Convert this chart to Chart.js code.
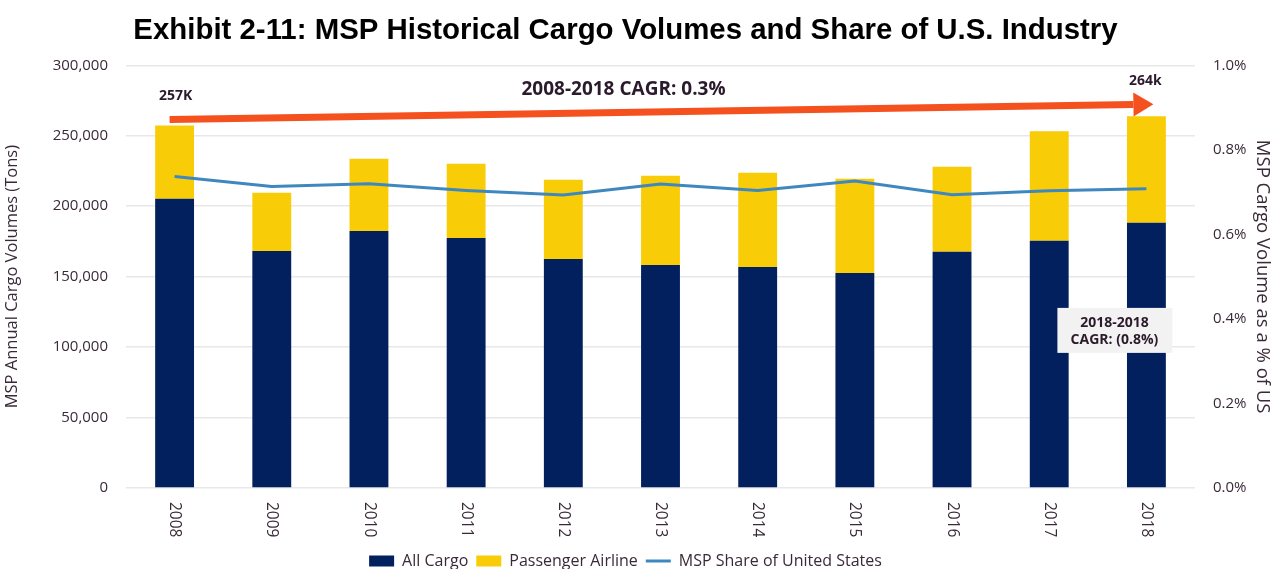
<!DOCTYPE html>
<html>
<head>
<meta charset="utf-8">
<script src="https://cdn.jsdelivr.net/npm/chart.js@4.4.0/dist/chart.umd.min.js"></script>
<style>
  html, body { margin: 0; padding: 0; background: #fff; }
  #wrap { width: 1273px; height: 569px; }
</style>
</head>
<body>
<div id="wrap"><canvas id="chart"></canvas></div>
<script>
const years = ['2008', '2009', '2010', '2011', '2012', '2013', '2014', '2015', '2016', '2017', '2018'];
const allCargo = [205200, 168200, 182400, 177400, 162500, 158200, 156800, 152500, 167700, 175500, 188300];
const passengerAirline = [52000, 41300, 51300, 52800, 56300, 63400, 67000, 67000, 60300, 77700, 75600];
const usShare = [0.737, 0.713, 0.720, 0.704, 0.693, 0.719, 0.704, 0.726, 0.694, 0.703, 0.708]; // percent

const textColor = '#3a2a38';
const sans = "'Open Sans', 'Noto Sans', sans-serif";

// arrow + call-outs, placed through the scales
const notes = {
  id: 'notes',
  afterDraw(chart) {
    const ctx = chart.ctx;
    const x = chart.scales.x, y = chart.scales.y;

    // rotated year labels (top to bottom)
    ctx.save();
    ctx.fillStyle = textColor;
    ctx.font = '15.5px ' + sans;
    ctx.textAlign = 'left';
    ctx.textBaseline = 'middle';
    years.forEach((yr, i) => {
      ctx.save();
      ctx.translate(x.getPixelForValue(i), y.bottom + 14);
      ctx.rotate(Math.PI / 2);
      ctx.fillText(yr, 0, 0);
      ctx.restore();
    });
    ctx.restore();

    // CAGR arrow
    const x0 = x.getPixelForValue(0) - 5, y0 = y.getPixelForValue(261500);
    const x1 = x.getPixelForValue(years.length - 1) + 7, y1 = y.getPixelForValue(272300);
    const ang = Math.atan2(y1 - y0, x1 - x0);
    const headLen = 20, headW = 12;
    const bx = x1 - headLen * Math.cos(ang), by = y1 - headLen * Math.sin(ang);
    ctx.save();
    ctx.strokeStyle = '#f4511e';
    ctx.fillStyle = '#f4511e';
    ctx.lineWidth = 7;
    ctx.beginPath();
    ctx.moveTo(x0, y0);
    ctx.lineTo(bx, by);
    ctx.stroke();
    ctx.beginPath();
    ctx.moveTo(x1, y1);
    ctx.lineTo(bx + headW * Math.sin(ang), by - headW * Math.cos(ang));
    ctx.lineTo(bx - headW * Math.sin(ang), by + headW * Math.cos(ang));
    ctx.closePath();
    ctx.fill();
    ctx.restore();

    ctx.save();
    ctx.fillStyle = '#2b1a2b';
    ctx.textAlign = 'center';
    ctx.textBaseline = 'middle';
    ctx.font = 'bold 14px ' + sans;
    ctx.fillText('257K', x.getPixelForValue(0) + 1, y.getPixelForValue(allCargo[0] + passengerAirline[0]) - 30);
    ctx.fillText('264k', x.getPixelForValue(10) - 1, y.getPixelForValue(allCargo[10] + passengerAirline[10]) - 35);
    ctx.font = 'bold 19px ' + sans;
    ctx.fillText('2008-2018 CAGR: 0.3%', x.getPixelForValue(5) - 37, y.getPixelForValue(283000));

    // grey call-out box
    const cx = x.getPixelForValue(10) - 32, cy = y.getPixelForValue(111500);
    ctx.fillStyle = '#f2f2f2';
    ctx.fillRect(cx - 57, cy - 23, 115, 45);
    ctx.fillStyle = '#2b1a2b';
    ctx.font = 'bold 14px ' + sans;
    ctx.fillText('2018-2018', cx, cy - 8);
    ctx.fillText('CAGR: (0.8%)', cx, cy + 9);
    ctx.restore();
  }
};

const ctx = document.getElementById('chart').getContext('2d');
new Chart(ctx, {
  type: 'bar',
  data: {
    labels: years,
    datasets: [
      {
        type: 'line',
        label: 'MSP Share of United States',
        data: usShare,
        yAxisID: 'y1',
        borderColor: '#3f88bf',
        backgroundColor: '#3f88bf',
        borderWidth: 3,
        pointRadius: 0,
        tension: 0,
        order: 0,
        pointStyle: 'line'
      },
      {
        label: 'All Cargo',
        data: allCargo,
        backgroundColor: '#02205e',
        stack: 's',
        order: 1,
        pointStyle: 'rect'
      },
      {
        label: 'Passenger Airline',
        data: passengerAirline,
        backgroundColor: '#f9cc08',
        stack: 's',
        order: 1,
        pointStyle: 'rect'
      }
    ]
  },
  options: {
    responsive: true,
    maintainAspectRatio: false,
    animation: false,
    datasets: { bar: { barPercentage: 0.4, categoryPercentage: 1 } },
    // right padding pulls the title centre left like the exhibit
    layout: { padding: { left: 0, right: 22, top: 0, bottom: -10 } },
    plugins: {
      title: {
        display: true,
        text: 'Exhibit 2-11: MSP Historical Cargo Volumes and Share of U.S. Industry',
        color: '#000',
        font: { family: "'Liberation Sans', Arial, sans-serif", size: 29.4, weight: 'bold', lineHeight: 1.2 },
        padding: { top: 13, bottom: 17 }
      },
      legend: {
        position: 'bottom',
        labels: {
          color: textColor,
          font: { family: sans, size: 16 },
          usePointStyle: true,
          pointStyleWidth: 25,
          boxHeight: 11,
          padding: 8,
          // line first in data so it draws on top; legend wants bars first
          sort: (a, b) => b.datasetIndex === 0 ? -1 : (a.datasetIndex === 0 ? 1 : a.datasetIndex - b.datasetIndex)
        }
      },
      tooltip: { enabled: false }
    },
    scales: {
      x: {
        stacked: true,
        grid: { display: false },
        border: { display: false },
        ticks: { color: 'transparent', maxRotation: 90, minRotation: 90 },
        afterFit: s => { s.height = 57; }
      },
      y: {
        stacked: true,
        min: 0,
        max: 300000,
        position: 'left',
        grid: { color: '#e8e8e8', drawTicks: false, lineWidth: 1.5 },
        border: { display: false },
        ticks: {
          stepSize: 50000,
          color: textColor,
          font: { family: sans, size: 15 },
          padding: 18,
          callback: v => v.toLocaleString('en-US')
        },
        title: {
          display: true,
          text: 'MSP Annual Cargo Volumes (Tons)',
          color: textColor,
          font: { family: sans, size: 16.5 },
          padding: { top: 2, bottom: 0 }
        },
        afterFit: s => { s.width = 126; }
      },
      y1: {
        min: 0,
        max: 1,
        position: 'right',
        grid: { display: false, drawTicks: false },
        border: { display: false },
        ticks: {
          stepSize: 0.2,
          color: textColor,
          font: { family: sans, size: 15 },
          padding: 18,
          callback: v => v.toFixed(1) + '%'
        },
        title: {
          display: true,
          text: 'MSP Cargo Volume as a % of US',
          color: textColor,
          font: { family: sans, size: 18.5 },
          padding: { top: -22, bottom: 0 }
        },
        afterFit: s => { s.width = 56; }
      }
    }
  },
  plugins: [notes]
});
</script>
</body>
</html>
